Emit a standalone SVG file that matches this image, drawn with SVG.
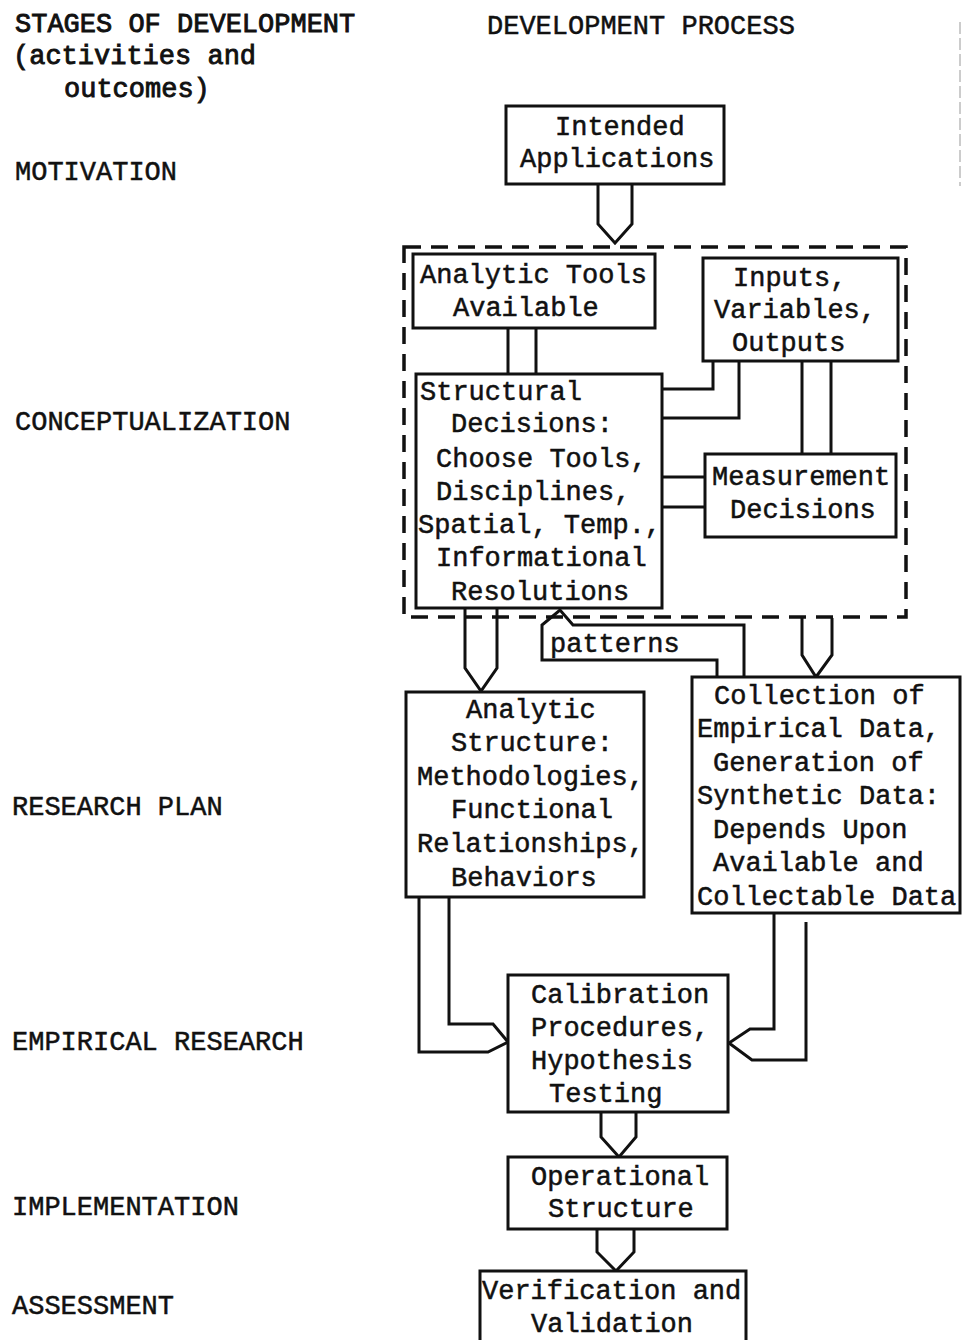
<svg xmlns="http://www.w3.org/2000/svg" width="963" height="1340" viewBox="0 0 963 1340">
<style>
  text { font-family: "Liberation Mono", "Courier New", monospace; font-size: 27px; fill: #111; stroke: #111; stroke-width: 0.5; }
  .box { fill: #fff; stroke: #111; stroke-width: 3; }
  .conn { fill: none; stroke: #111; stroke-width: 3; stroke-linejoin: miter; }
  .dash { fill: none; stroke: #111; stroke-width: 3.5; stroke-dasharray: 17 10; }
  .lbl { stroke-width: 0.9; }
</style>
<rect width="963" height="1340" fill="#fff"/>

<g id="stage-labels">
  <text class="lbl" x="15" y="32">STAGES OF DEVELOPMENT</text>
  <text class="lbl" x="13" y="64">(activities and</text>
  <text class="lbl" x="64" y="97">outcomes)</text>
  <text x="487" y="34">DEVELOPMENT PROCESS</text>
  <text x="15" y="180">MOTIVATION</text>
  <text x="15" y="430">CONCEPTUALIZATION</text>
  <text x="12" y="815">RESEARCH PLAN</text>
  <text x="12" y="1050">EMPIRICAL RESEARCH</text>
  <text x="12" y="1215">IMPLEMENTATION</text>
  <text x="12" y="1314">ASSESSMENT</text>
</g>

<line x1="960" y1="22" x2="960" y2="186" stroke="#999" stroke-width="1" stroke-dasharray="12 4"/>

<g id="connectors">
  <rect id="conceptualization-group" class="dash" x="404" y="247" width="502" height="370"/>
  <path class="conn" d="M598,184 V224 L615,243 L632,224 V184"/>
  <path class="conn" d="M508,328 V374 M536,328 V374"/>
  <path class="conn" d="M662,389 H713 V361 M662,418 H739 V361"/>
  <path class="conn" d="M802,361 V454 M831,361 V454"/>
  <path class="conn" d="M662,477 H705 M662,507 H705"/>
  <path class="conn" d="M465,608 V668 L481,691 L497,668 V608"/>
  <path class="conn" d="M717,677 V660 H542 V625 L560,610 L573,625 H744 V677"/>
  <path class="conn" d="M802,618 V655 L816,677 L832,655 V618"/>
  <path class="conn" d="M419,897 V1052 H488 L508,1042 L493,1024 H449 V897"/>
  <path class="conn" d="M774,913 V1029 H750 L729,1043 L752,1060 H806 V922"/>
  <path class="conn" d="M601,1112 V1137 L619,1157 L636,1137 V1112"/>
  <path class="conn" d="M597,1229 V1252 L616,1271 L634,1252 V1229"/>
  <text x="550" y="652">patterns</text>
</g>

<g id="intended-applications">
  <rect class="box" x="506" y="106" width="218" height="78"/>
  <text x="555" y="135">Intended</text>
  <text x="520" y="167">Applications</text>
</g>

<g id="analytic-tools">
  <rect class="box" x="413" y="254" width="242" height="74"/>
  <text x="420" y="283">Analytic Tools</text>
  <text x="453" y="316">Available</text>
</g>

<g id="inputs">
  <rect class="box" x="703" y="258" width="195" height="103"/>
  <text x="733" y="286">Inputs,</text>
  <text x="714" y="318">Variables,</text>
  <text x="732" y="351">Outputs</text>
</g>

<g id="structural-decisions">
  <rect class="box" x="416" y="374" width="246" height="234"/>
  <text x="420" y="400">Structural</text>
  <text x="451" y="432">Decisions:</text>
  <text x="436" y="467">Choose Tools,</text>
  <text x="436" y="500">Disciplines,</text>
  <text x="418" y="533">Spatial, Temp.,</text>
  <text x="436" y="566">Informational</text>
  <text x="451" y="600">Resolutions</text>
</g>

<g id="measurement-decisions">
  <rect class="box" x="705" y="454" width="191" height="83"/>
  <text x="712" y="485">Measurement</text>
  <text x="730" y="518">Decisions</text>
</g>

<g id="analytic-structure">
  <rect class="box" x="406" y="692" width="238" height="205"/>
  <text x="466" y="718">Analytic</text>
  <text x="451" y="751">Structure:</text>
  <text x="417" y="785">Methodologies,</text>
  <text x="451" y="818">Functional</text>
  <text x="417" y="852">Relationships,</text>
  <text x="451" y="886">Behaviors</text>
</g>

<g id="collection">
  <rect class="box" x="692" y="677" width="268" height="236"/>
  <text x="714" y="704">Collection of</text>
  <text x="697" y="737">Empirical Data,</text>
  <text x="713" y="771">Generation of</text>
  <text x="697" y="804">Synthetic Data:</text>
  <text x="713" y="838">Depends Upon</text>
  <text x="713" y="871">Available and</text>
  <text x="697" y="905">Collectable Data</text>
</g>

<g id="calibration">
  <rect class="box" x="508" y="975" width="220" height="137"/>
  <text x="531" y="1003">Calibration</text>
  <text x="531" y="1036">Procedures,</text>
  <text x="531" y="1069">Hypothesis</text>
  <text x="549" y="1102">Testing</text>
</g>

<g id="operational-structure">
  <rect class="box" x="508" y="1157" width="219" height="72"/>
  <text x="531" y="1185">Operational</text>
  <text x="548" y="1217">Structure</text>
</g>

<g id="verification">
  <rect class="box" x="480" y="1271" width="266" height="80"/>
  <text x="482" y="1299">Verification and</text>
  <text x="531" y="1332">Validation</text>
</g>
</svg>
